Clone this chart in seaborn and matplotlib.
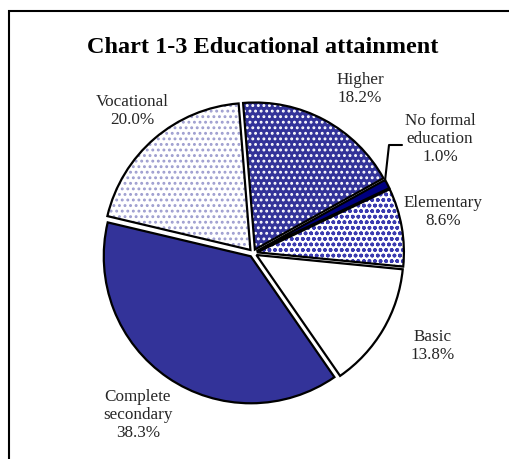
import matplotlib
matplotlib.use("Agg")
import matplotlib.pyplot as plt
import seaborn as sns
from matplotlib.patches import Rectangle
from matplotlib.lines import Line2D

# Educational attainment shares (%)
categories = ["Higher", "No formal\neducation", "Elementary", "Basic",
              "Complete\nsecondary", "Vocational"]
shares = [18.2, 1.0, 8.6, 13.8, 38.3, 20.0]

face_colors = ["#333399", "#000080", "#ffffff", "#ffffff", "#333399", "#ffffff"]
hatch_colors = ["#ffffff", "#000080", "#3a3ab0", "#ffffff", "#333399", "#9d9dcf"]
hatches = ["...", "", "...ooo", "", "", "..."]
hatch_widths = [1.3, 1.0, 1.1, 1.0, 1.0, 1.3]

sns.set_theme(style="white")
plt.rcParams["font.family"] = ["Liberation Serif", "DejaVu Serif"]
plt.rcParams["hatch.linewidth"] = 1.3

W, H = 510, 459
fig = plt.figure(figsize=(W / 100, H / 100), dpi=100)


def fx(px):
    return px / W


def fy(py):
    return 1 - py / H


# pie area: centre (253, 253), radius 147 px
cx, cy, r = 253, 253, 147
ax = fig.add_axes([fx(cx - r), fy(cy + r), 2 * r / W, 2 * r / H])

explode = [0.027] * len(shares)
start = 94.6

# textured fills (hatch colour follows the edge colour, edge width 0)
fills, _ = ax.pie(shares, colors=face_colors, startangle=start,
                  counterclock=False, explode=explode,
                  wedgeprops=dict(linewidth=0))
for w, h, hc, hw in zip(fills, hatches, hatch_colors, hatch_widths):
    w.set_edgecolor(hc)
    w.set_linewidth(0)
    if h:
        w.set_hatch(h)
        if hasattr(w, "set_hatch_linewidth"):
            w.set_hatch_linewidth(hw)

# black outlines on top
outlines, _ = ax.pie(shares, startangle=start, counterclock=False,
                     explode=explode,
                     wedgeprops=dict(fill=False, edgecolor="black",
                                     linewidth=1.6))

ax.set_xlim(-1, 1)
ax.set_ylim(-1, 1)
ax.set_aspect("equal")
ax.axis("off")

# slice labels
label_pos = [(360, 89), (440, 139), (443, 212), (433, 346), (138, 415), (132, 111)]
for name, val, (px, py) in zip(categories, shares, label_pos):
    fig.text(fx(px), fy(py), f"{name}\n{val:.1f}%", ha="center", va="center",
             fontsize=12.3, color="#262626", linespacing=1.15)

# leader line for the thin slice
fig.add_artist(Line2D([fx(385), fx(389), fx(402)], [fy(181), fy(145), fy(145)],
                      color="black", linewidth=1.5, transform=fig.transFigure))

fig.text(fx(263), fy(53), "Chart 1-3 Educational attainment", ha="center",
         va="baseline", fontsize=17.5, fontweight="bold", color="black")

# chart frame
fig.add_artist(Rectangle((fx(9.3), -0.2), 1.2, fy(11.5) + 0.2, fill=False,
                         edgecolor="black", linewidth=1.5,
                         transform=fig.transFigure, clip_on=False))

fig.savefig("out.png", dpi=100, facecolor="white")
